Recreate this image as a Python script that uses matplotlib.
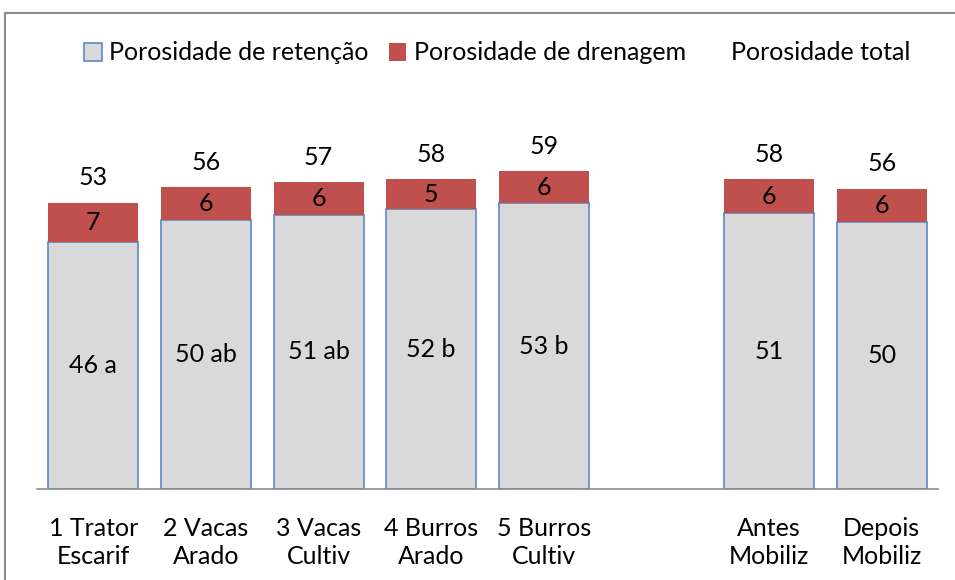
import numpy as np
import matplotlib
matplotlib.use("Agg")
import matplotlib.pyplot as plt
from matplotlib.patches import Patch
from matplotlib.lines import Line2D

plt.rcParams["font.family"] = ["Lato", "DejaVu Sans"]

# data
categories = ["1 Trator\nEscarif", "2 Vacas\nArado", "3 Vacas\nCultiv",
              "4 Burros\nArado", "5 Burros\nCultiv", "Antes\nMobiliz", "Depois\nMobiliz"]
retencao = [46.0, 50.1, 51.1, 52.1, 53.2, 51.3, 49.7]
drenagem = [7.3, 6.1, 6.0, 5.6, 6.0, 6.4, 6.2]
lab_retencao = ["46 a", "50 ab", "51 ab", "52 b", "53 b", "51", "50"]
lab_drenagem = ["7", "6", "6", "5", "6", "6", "6"]
lab_total = ["53", "56", "57", "58", "59", "58", "56"]
GAP_AFTER = 5  # empty slot between the two groups

GREY = "#d9d9d9"
BLUE = "#5b87c9"
RED = "#c0504d"
FRAME = "#8c8c8c"
FS = 18

x = np.array([i if i < GAP_AFTER else i + 1 for i in range(len(categories))])
ret = np.array(retencao)
dren = np.array(drenagem)

fig = plt.figure(figsize=(9.55, 5.8), dpi=100)
ax = fig.add_axes([37 / 955, 1 - 489 / 580, 901 / 955, 376 / 580])

ax.bar(x, ret, width=0.8, color=GREY, edgecolor=BLUE, linewidth=1.2, zorder=2)
ax.bar(x, dren, width=0.8, bottom=ret, color=RED, edgecolor="none", zorder=2)

for xi, r, d, lr, ld, lt in zip(x, ret, dren, lab_retencao, lab_drenagem, lab_total):
    ax.text(xi, r / 2, lr, ha="center", va="center", fontsize=FS)
    ax.text(xi, r + d / 2, ld, ha="center", va="center", fontsize=FS)
    ax.annotate(lt, (xi, r + d), xytext=(0, 18), textcoords="offset points",
                ha="center", va="center", fontsize=FS)

ax.set_xlim(-0.5, len(categories) + 0.5)
ax.set_ylim(0, 70)
ax.set_xticks(x)
ax.set_xticklabels(categories, fontsize=FS, linespacing=1.3)
ax.tick_params(axis="x", length=0, pad=20)
ax.set_yticks([])
for s in ["top", "right", "left"]:
    ax.spines[s].set_visible(False)
ax.spines["bottom"].set_color(FRAME)
ax.spines["bottom"].set_linewidth(1.2)

handles = [
    Patch(facecolor=GREY, edgecolor=BLUE, linewidth=1.2),
    Patch(facecolor=RED, edgecolor="none"),
    Patch(facecolor="none", edgecolor="none"),
]
fig.legend(handles, ["Porosidade de retenção", "Porosidade de drenagem", "Porosidade total"],
           loc="center", bbox_to_anchor=(497 / 955, 1 - 53 / 580), ncol=3, frameon=False,
           fontsize=FS, handlelength=0.7, handleheight=0.7, handletextpad=0.3,
           columnspacing=0.8)

# outer chart frame (cropped at right and bottom)
fig.add_artist(Line2D([5 / 955, 1.0], [1 - 13 / 580, 1 - 13 / 580], color=FRAME, lw=1.5))
fig.add_artist(Line2D([5 / 955, 5 / 955], [0.0, 1 - 13 / 580], color=FRAME, lw=1.5))

fig.savefig("out.png", dpi=100, facecolor="white")
